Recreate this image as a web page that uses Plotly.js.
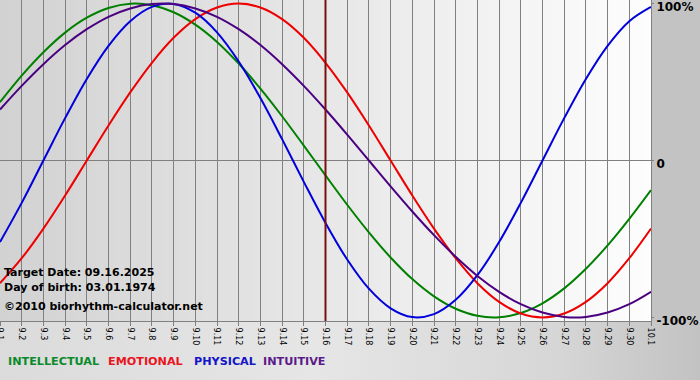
<!DOCTYPE html>
<html>
<head>
<meta charset="utf-8">
<script src="https://cdn.plot.ly/plotly-3.0.1.min.js"></script>
<style>
  html, body { margin: 0; padding: 0; }
  #chart { width: 700px; height: 380px;
    background: linear-gradient(to right, #dbdbdb 0%, #e6e6e6 45%, #d6d6d6 80%, #c2c2c2 100%); }
</style>
</head>
<body>
<div id="chart"></div>
<script>
const days = ['9.1','9.2','9.3','9.4','9.5','9.6','9.7','9.8','9.9','9.10',
  '9.11','9.12','9.13','9.14','9.15','9.16','9.17','9.18','9.19','9.20',
  '9.21','9.22','9.23','9.24','9.25','9.26','9.27','9.28','9.29','9.30','10.1'];

const physical = [-52.0,-27.0,0,27.0,52.0,73.1,88.8,97.9,99.8,94.2,81.7,63.1,39.8,13.6,-13.6,
  -39.8,-63.1,-81.7,-94.2,-99.8,-97.9,-88.8,-73.1,-52.0,-27.0,0,27.0,52.0,73.1,88.8,97.9];
const emotional = [-78.2,-62.3,-43.4,-22.3,0,22.3,43.4,62.3,78.2,90.1,97.5,100,97.5,90.1,78.2,
  62.3,43.4,22.3,0,-22.3,-43.4,-62.3,-78.2,-90.1,-97.5,-100,-97.5,-90.1,-78.2,-62.3,-43.4];
const intellectual = [37.2,54.1,69.0,81.5,91.0,97.2,99.9,99.0,94.5,86.6,75.6,61.8,45.8,28.2,9.5,
  -9.5,-28.2,-45.8,-61.8,-75.6,-86.6,-94.5,-99.0,-99.9,-97.2,-91.0,-81.5,-69.0,-54.1,-37.2,-18.9];
const intuitive = [32.5,47.6,61.4,73.6,83.7,91.6,96.9,99.7,99.7,96.9,91.6,83.7,73.6,61.4,47.6,
  32.5,16.5,0,-16.5,-32.5,-47.6,-61.4,-73.6,-83.7,-91.6,-96.9,-99.7,-99.7,-96.9,-91.6,-83.7];

const yTickVals = [100, 0, -100];
const yTickText = ['100%', '0', '-100%'];
const targetDay = '9.16';
const infoLines = ['Target Date: 09.16.2025', 'Day of birth: 03.01.1974', '\u00a92010 biorhythm-calculator.net'];
const legendNames = ['INTELLECTUAL', 'EMOTIONAL', 'PHYSICAL', 'INTUITIVE'];

const colors = { intellectual: '#008000', emotional: '#ee0000', physical: '#0000dd', intuitive: '#4b0082' };
const textColors = ['#0a8a2a', '#e8141e', '#1414c8', '#5a1a8a'];

const W = 651, H = 321;
const px = x => x / W;
const py = y => 1 - y / H;

function mk(name, y, color) {
  return { type: 'scatter', mode: 'lines', name: name, x: days, y: y,
    line: { color: color, width: 2, shape: 'spline', smoothing: 1 }, hoverinfo: 'skip' };
}

const traces = [
  mk('INTELLECTUAL', intellectual, colors.intellectual),
  mk('EMOTIONAL', emotional, colors.emotional),
  mk('PHYSICAL', physical, colors.physical),
  mk('INTUITIVE', intuitive, colors.intuitive)
];

// gradient background of the plot area
const shapes = [];
const N = 80;
for (let i = 0; i < N; i++) {
  const t = i / (N - 1);
  const v = Math.round(0xd2 + (0xfd - 0xd2) * t);
  const c = 'rgb(' + v + ',' + v + ',' + v + ')';
  shapes.push({ type: 'rect', xref: 'paper', yref: 'paper', x0: i / N, x1: (i + 1) / N + 0.002, y0: 0, y1: 1,
    fillcolor: c, line: { width: 0 }, layer: 'below' });
}
// right margin strip
shapes.push({ type: 'rect', xref: 'paper', yref: 'paper', x0: 1, x1: 700 / W, y0: 0, y1: 1,
  fillcolor: '#c3c3c3', line: { width: 0 }, layer: 'below' });
shapes.push({ type: 'line', xref: 'x', yref: 'paper', x0: days.indexOf(targetDay), x1: days.indexOf(targetDay), y0: 0, y1: 1,
  line: { color: '#7a1010', width: 2 }, layer: 'above' });

const annotations = [];
const infoY = [272, 287, 306];
infoLines.forEach((t, i) => annotations.push({
  xref: 'paper', yref: 'paper', x: px(2), y: py(infoY[i]), xanchor: 'left', yanchor: 'middle',
  text: t, showarrow: false, font: { family: 'DejaVu Sans', size: 11, weight: 700, color: '#000' }
}));
const legX = [6, 106, 192, 261];
legendNames.forEach((t, i) => annotations.push({
  xref: 'paper', yref: 'paper', x: px(legX[i]), y: py(361), xanchor: 'left', yanchor: 'middle',
  text: t, showarrow: false, font: { family: 'DejaVu Sans', size: 11.2, weight: 700, color: textColors[i] }
}));

const layout = {
  width: 700, height: 380,
  margin: { l: 0, r: 49, t: 0, b: 59, pad: 0 },
  paper_bgcolor: 'rgba(0,0,0,0)',
  plot_bgcolor: 'rgba(0,0,0,0)',
  showlegend: false,
  xaxis: {
    type: 'category', range: [0, days.length - 1],
    showgrid: true, gridcolor: '#808080', gridwidth: 1,
    showline: true, linecolor: '#808080', linewidth: 1, mirror: true,
    ticks: 'outside', ticklen: 4, tickcolor: '#808080',
    tickangle: 90, tickfont: { family: 'DejaVu Sans', size: 8, color: '#000' },
    zeroline: false, fixedrange: true
  },
  yaxis: {
    side: 'right', range: [-102.3, 102.3],
    tickvals: yTickVals, ticktext: yTickText,
    showgrid: false, zeroline: true, zerolinecolor: '#808080', zerolinewidth: 1,
    showline: true, linecolor: '#808080', linewidth: 1, mirror: true,
    ticks: 'outside', ticklen: 2, tickcolor: '#808080',
    ticklabeloverflow: 'allow', ticklabelshift: 3,
    tickfont: { family: 'DejaVu Sans', size: 12, weight: 700, color: '#000' },
    fixedrange: true
  },
  shapes: shapes,
  annotations: annotations
};

Plotly.newPlot('chart', traces, layout, { displayModeBar: false, staticPlot: true });
</script>
</body>
</html>
